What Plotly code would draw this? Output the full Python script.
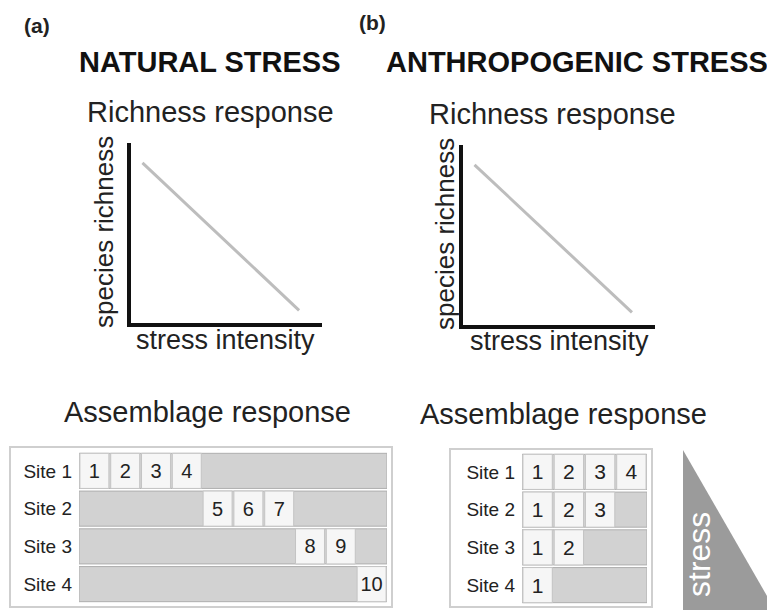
import plotly.graph_objects as go

# ---------------- data ----------------
natural_stress = [0.06, 0.88]
natural_richness = [0.89, 0.07]
anthro_stress = [0.06, 0.88]
anthro_richness = [0.89, 0.07]

sites = ["Site 1", "Site 2", "Site 3", "Site 4"]

# natural stress: species turnover along the gradient (10 species pool)
natural_pool = 10
natural_species = {
    "Site 1": [1, 2, 3, 4],
    "Site 2": [5, 6, 7],
    "Site 3": [8, 9],
    "Site 4": [10],
}
# anthropogenic stress: nested loss of species (4 species pool)
anthro_pool = 4
anthro_species = {
    "Site 1": [1, 2, 3, 4],
    "Site 2": [1, 2, 3],
    "Site 3": [1, 2],
    "Site 4": [1],
}

# page body has an 8px margin -> figure covers window pixels 8..775 / 8..610
OFF = 8
W, H = 775 - OFF, 610 - OFF
FONT = "Liberation Sans, Arial, Helvetica, sans-serif"


def fx(px):
    return (px - OFF) / W


def fy(py):
    return 1 - (py - OFF) / H


fig = go.Figure()

# ---------------- richness response line plots ----------------
fig.add_trace(go.Scatter(x=natural_stress, y=natural_richness, mode="lines",
                         line=dict(color="#bdbdbd", width=3),
                         xaxis="x", yaxis="y", showlegend=False, hoverinfo="skip"))
fig.add_trace(go.Scatter(x=anthro_stress, y=anthro_richness, mode="lines",
                         line=dict(color="#bdbdbd", width=3),
                         xaxis="x2", yaxis="y2", showlegend=False, hoverinfo="skip"))


# ---------------- assemblage grids ----------------
def add_grid(species_map, pool, xa, ya, numsize, turnover):
    # full-width gray row background
    fig.add_trace(go.Bar(
        y=sites, x=[pool] * len(sites), base=[0] * len(sites), orientation="h",
        marker=dict(color="#d2d2d2", line=dict(color="#aeaeae", width=1)),
        xaxis=xa, yaxis=ya, showlegend=False, hoverinfo="skip"))
    ys, xs, bases, texts = [], [], [], []
    for s in sites:
        for col, sp in enumerate(species_map[s]):
            pos = sp - 1 if turnover else col
            ys.append(s)
            xs.append(0.94)
            bases.append(pos + 0.03)
            texts.append(str(sp))
    fig.add_trace(go.Bar(
        y=ys, x=xs, base=bases, orientation="h", text=texts,
        textposition="inside", insidetextanchor="middle", textangle=0,
        constraintext="none",
        textfont=dict(family=FONT, size=numsize, color="#222222"),
        marker=dict(color="#f6f6f6", line=dict(color="#c4c4c4", width=1)),
        xaxis=xa, yaxis=ya, showlegend=False, hoverinfo="skip"))


add_grid(natural_species, natural_pool, "x3", "y3", 20, True)
add_grid(anthro_species, anthro_pool, "x4", "y4", 21, False)

line_axis = dict(showline=True, linewidth=4, linecolor="#111111", ticks="",
                 showticklabels=False, showgrid=False, zeroline=False,
                 range=[0, 1], fixedrange=True)

grid_x = dict(visible=False, showgrid=False, zeroline=False, fixedrange=True)
grid_y = dict(type="category", categoryorder="array", categoryarray=sites,
              autorange="reversed", showgrid=False, zeroline=False, showline=False,
              ticks="", ticklabelstandoff=6,
              tickfont=dict(family=FONT, size=19, color="#222222"), fixedrange=True)

fig.update_layout(
    width=W, height=H,
    margin=dict(l=0, r=0, t=0, b=0),
    paper_bgcolor="white", plot_bgcolor="rgba(0,0,0,0)",
    barmode="overlay", bargap=0.07,
    font=dict(family=FONT, color="#222222"),
    xaxis=dict(domain=[fx(131), fx(322)], anchor="y", **line_axis),
    yaxis=dict(domain=[fy(323), fy(143)], anchor="x", **line_axis),
    xaxis2=dict(domain=[fx(463), fx(655)], anchor="y2", **line_axis),
    yaxis2=dict(domain=[fy(325), fy(145)], anchor="x2", **line_axis),
    xaxis3=dict(domain=[fx(79), fx(387)], anchor="y3", range=[0, natural_pool], **grid_x),
    yaxis3=dict(domain=[fy(603), fy(452)], anchor="x3", **grid_y),
    xaxis4=dict(domain=[fx(522), fx(647)], anchor="y4", range=[0, anthro_pool], **grid_x),
    yaxis4=dict(domain=[fy(604), fy(453)], anchor="x4", **grid_y),
    showlegend=False,
)

# outer boxes around the assemblage tables and stress wedge
fig.add_shape(type="rect", xref="paper", yref="paper",
              x0=fx(10), x1=fx(392), y0=fy(607), y1=fy(447),
              line=dict(color="#cfcfcf", width=2), fillcolor="rgba(0,0,0,0)", layer="below")
fig.add_shape(type="rect", xref="paper", yref="paper",
              x0=fx(450), x1=fx(652), y0=fy(607), y1=fy(449),
              line=dict(color="#cfcfcf", width=2), fillcolor="rgba(0,0,0,0)", layer="below")
fig.add_shape(type="path", xref="paper", yref="paper",
              path=f"M {fx(683)} {fy(450)} L {fx(683)} {fy(615)} L {fx(778)} {fy(615)} Z",
              fillcolor="#9b9b9b", line=dict(width=0))


def ann(text, x, y, size, bold=False, angle=0, color="#222222"):
    fig.add_annotation(text=f"<b>{text}</b>" if bold else text,
                       x=fx(x), y=fy(y), xref="paper", yref="paper",
                       xanchor="center", yanchor="middle", showarrow=False,
                       textangle=angle,
                       font=dict(family=FONT, size=size, color=color))


ann("(a)", 37, 25, 21, bold=True)
ann("(b)", 372, 23, 21, bold=True)
ann("NATURAL STRESS", 210, 62, 29, bold=True, color="#111111")
ann("ANTHROPOGENIC STRESS", 577, 62, 29, bold=True, color="#111111")
ann("Richness response", 211, 112, 29)
ann("Richness response", 552, 114, 29)
ann("species richness", 104, 232, 26, angle=-90)
ann("stress intensity", 225, 340, 27)
ann("species richness", 445, 234, 26, angle=-90)
ann("stress intensity", 559, 341, 27)
ann("Assemblage response", 207, 412, 29)
ann("Assemblage response", 563, 414, 29)
ann("stress", 699, 555, 32, angle=-90, color="white")

fig.write_html("out.html")
